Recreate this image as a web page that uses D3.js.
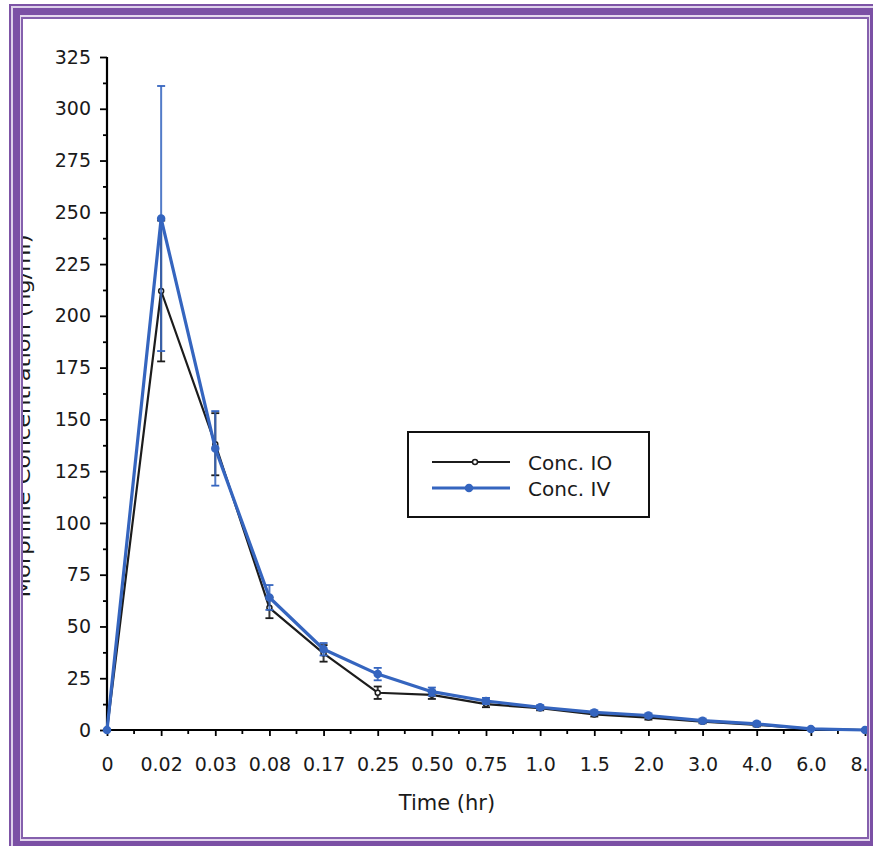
<!DOCTYPE html>
<html><head><meta charset="utf-8">
<script src="https://cdn.jsdelivr.net/npm/d3@7/dist/d3.min.js"></script>
<style>
html,body{margin:0;padding:0;background:#fff;}
svg{display:block;}
text{font-family:"DejaVu Sans",sans-serif;fill:#1a1a1a;}
</style></head>
<body>
<script>
// ---- data ----
const categories = ["0","0.02","0.03","0.08","0.17","0.25","0.50","0.75","1.0","1.5","2.0","3.0","4.0","6.0","8.0"];
const seriesNames = ["Conc. IO","Conc. IV"];
const ioMean = [0, 212, 138, 59, 37, 18, 17, 12.5, 10.5, 7.5, 6, 4, 2.5, 0.5, 0];
const ioErr  = [0, 34, 15, 5, 4, 3, 2, 1.5, 1, 1, 1, 0.8, 0.8, 0.5, 0.5];
const ivMean = [0, 247, 136, 64, 39, 27, 18.5, 14, 11, 8.5, 7, 4.5, 3, 0.5, 0];
const ivErr  = [0, 64, 18, 6, 3, 3, 2, 1.5, 1, 1, 1, 1, 1, 0.5, 0.5];
const yTicks = [0,25,50,75,100,125,150,175,200,225,250,275,300,325];
const yTitle = "Morphine Concentration (ng/ml)";
const xTitle = "Time (hr)";

const W = 873, H = 846;
const svg = d3.select("body").append("svg").attr("width", W).attr("height", H);
svg.append("rect").attr("width", W).attr("height", H).attr("fill", "#fff");

const x = d3.scalePoint().domain(categories).range([107, 865]);
const y = d3.scaleLinear().domain([0, 325]).range([730, 57]);

const plot = svg.append("g");

// y axis
const yAxis = plot.append("g").attr("transform", "translate(107,0)")
  .call(d3.axisLeft(y).tickValues(yTicks).tickSize(7).tickPadding(9).tickSizeOuter(0));
const yMinor = plot.append("g").attr("transform", "translate(107,0)")
  .call(d3.axisLeft(y).tickValues(yTicks.slice(0, -1).map(v => v + 12.5)).tickSize(4).tickFormat("").tickSizeOuter(0));
yMinor.select(".domain").remove();
yAxis.select(".domain").attr("stroke-width", 2.2).attr("d", `M0,${y(325)}V${y(0)+1}`);
yAxis.selectAll(".tick line").attr("stroke-width", 1.8);
yMinor.selectAll(".tick line").attr("stroke-width", 1.8);
yAxis.selectAll("text").attr("font-size", 19).attr("font-family", "DejaVu Sans").attr("fill", "#1a1a1a");

// x axis
const xAxis = plot.append("g").attr("transform", `translate(0,${y(0)})`)
  .call(d3.axisBottom(x).tickSize(6).tickPadding(22).tickSizeOuter(0));
xAxis.select(".domain").attr("stroke-width", 2.2).attr("d", `M106,0H${W + 20}`);
xAxis.selectAll(".tick line").attr("stroke-width", 1.8);
xAxis.selectAll("text").attr("font-size", 19).attr("font-family", "DejaVu Sans").attr("fill", "#1a1a1a");
const step = x.step();
const xMinor = plot.append("g").attr("transform", `translate(0,${y(0)})`);
xMinor.selectAll("line").data(categories).join("line")
  .attr("x1", d => x(d) + step / 2).attr("x2", d => x(d) + step / 2)
  .attr("y1", 0).attr("y2", 4).attr("stroke", "#000").attr("stroke-width", 1.8);

// titles
plot.append("text").attr("x", 447).attr("y", 810).attr("text-anchor", "middle")
  .attr("font-size", 21).text(xTitle);
plot.append("text").attr("transform", "translate(30,416) rotate(-90)")
  .attr("text-anchor", "middle").attr("font-size", 20)
  .attr("textLength", 363).attr("lengthAdjust", "spacingAndGlyphs").text(yTitle);

// series
const series = [
  {name: seriesNames[0], mean: ioMean, err: ioErr, color: "#1c1c1c", width: 2.2, r: 2.5, fill: "#fff"},
  {name: seriesNames[1], mean: ivMean, err: ivErr, color: "#3565bf", width: 3.2, r: 3.5, fill: "#3565bf"}
];
const line = d3.line().x((d, i) => x(categories[i])).y(d => y(d));
series.forEach(s => {
  const g = plot.append("g");
  categories.forEach((c, i) => {
    if (!s.err[i]) return;
    const cx = x(c), top = y(s.mean[i] + s.err[i]), bot = y(s.mean[i] - s.err[i]);
    g.append("line").attr("x1", cx).attr("x2", cx).attr("y1", top).attr("y2", bot)
      .attr("stroke", s.color).attr("stroke-width", 2).attr("opacity", 0.85);
    [top, bot].forEach(yy => g.append("line").attr("x1", cx - 4).attr("x2", cx + 4)
      .attr("y1", yy).attr("y2", yy).attr("stroke", s.color).attr("stroke-width", 1.8));
  });
  g.append("path").attr("d", line(s.mean)).attr("fill", "none")
    .attr("stroke", s.color).attr("stroke-width", s.width).attr("stroke-linejoin", "round");
  g.selectAll("circle").data(s.mean).join("circle")
    .attr("cx", (d, i) => x(categories[i])).attr("cy", d => y(d)).attr("r", s.r)
    .attr("fill", s.fill).attr("stroke", s.color).attr("stroke-width", 1.5);
});

// legend
const lg = plot.append("g");
lg.append("rect").attr("x", 408).attr("y", 432).attr("width", 241).attr("height", 85)
  .attr("fill", "#fff").attr("stroke", "#111").attr("stroke-width", 2);
series.forEach((s, i) => {
  const ly = 462 + i * 26;
  lg.append("line").attr("x1", 432).attr("x2", 510).attr("y1", ly).attr("y2", ly)
    .attr("stroke", s.color).attr("stroke-width", s.width);
  lg.append("circle").attr("cx", i === 0 ? 475 : 469).attr("cy", ly).attr("r", s.r)
    .attr("fill", s.fill).attr("stroke", s.color).attr("stroke-width", 1.5);
  lg.append("text").attr("x", 528).attr("y", ly + 8).attr("font-size", 20).text(s.name);
});

// frame
function ring(o, inn, color) {
  const p = `M${o[0]},${o[1]}H${o[2]}V${o[3]}H${o[0]}Z M${inn[0]},${inn[1]}H${inn[2]}V${inn[3]}H${inn[0]}Z`;
  svg.append("path").attr("d", p).attr("fill", color).attr("fill-rule", "evenodd");
}
ring([-10, -10, W + 10, H + 10], [9, 4, W + 5, H + 5], "#ffffff");
ring([9, 4, W + 5, H + 5], [11, 6, W + 5, H + 5], "#7d53a6");
ring([11, 6, W + 5, H + 5], [13, 8, W + 5, H + 5], "#ddd0ea");
ring([13, 8, W + 5, H + 5], [20, 15, 870, 841], "#7b50a5");
ring([20, 15, 870, 841], [21, 17, 869, 839], "#e4d8ee");
ring([21, 17, 869, 839], [23, 19, 867, 837], "#8560ad");
</script>
</body></html>
